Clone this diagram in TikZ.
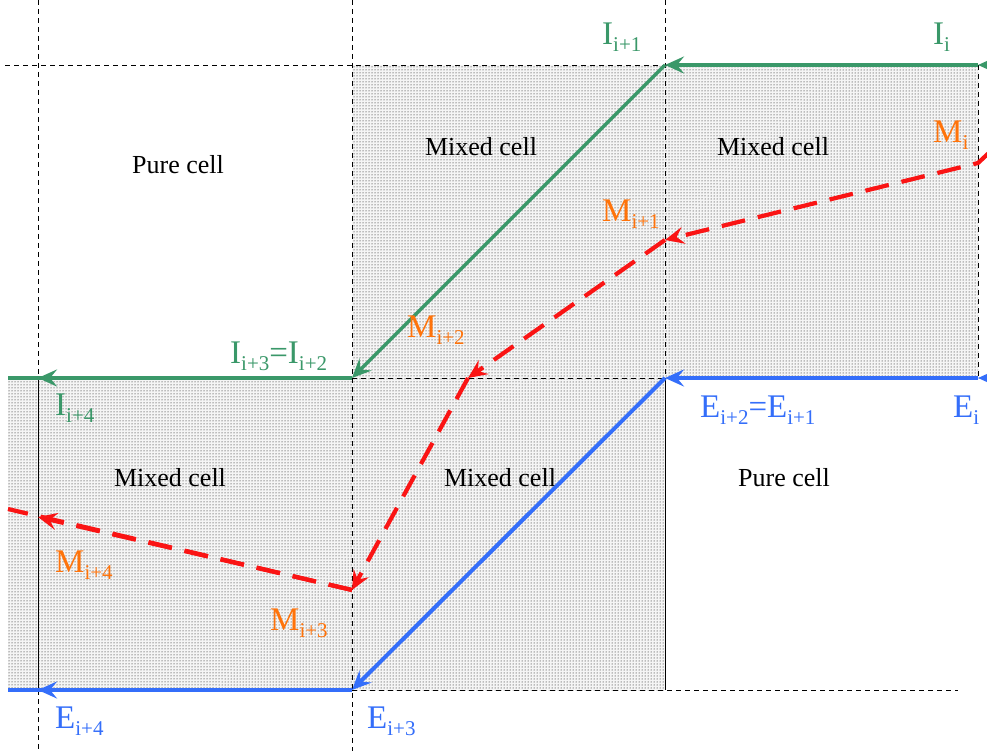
\documentclass[tikz,border=0pt]{standalone}
\usepackage{fontspec}
\setmainfont{Liberation Serif}
\usetikzlibrary{arrows.meta,patterns}
\definecolor{igreen}{RGB}{58,152,105}
\definecolor{eblue}{RGB}{52,110,250}
\definecolor{mred}{RGB}{250,20,20}
\definecolor{morange}{RGB}{255,115,10}
\newcommand\lab[2]{#1\raisebox{-7pt}{\fontsize{21}{21}\selectfont #2}}
\begin{document}
\begin{tikzpicture}[x=1pt,y=-1pt,
  grid/.style={black, line width=0.8pt, dash pattern=on 5pt off 4pt},
  shaded/.style={fill=black!4, postaction={pattern=dots, pattern color=black}},
  tip/.style={-{Stealth[length=19pt,width=17pt,inset=7pt]}},
  gline/.style={igreen, line width=3.2pt},
  bline/.style={eblue, line width=4pt},
  rline/.style={mred, line width=4.2pt, dash pattern=on 24pt off 13pt},
  celltext/.style={font=\fontsize{26}{30}\selectfont, text=black},
  labtext/.style={anchor=base west, inner sep=0pt, font=\fontsize{33}{36}\selectfont}]
\useasboundingbox (0,0) rectangle (987,751);
\fill[white] (0,0) rectangle (987,751);
% shaded mixed cells
\path[shaded] (352,65) rectangle (978,378);
\path[shaded] (8,378) rectangle (665,690);
% grid lines
\draw[grid] (38,0) -- (38,378);
\draw[black, line width=0.8pt] (38,378) -- (38,690);
\draw[grid] (38,690) -- (38,751);
\draw[grid] (352,0) -- (352,751);
\draw[grid] (665,0) -- (665,378);
\draw[black, line width=0.8pt] (665,378) -- (665,690);
\draw[grid] (978,65) -- (978,378);
\draw[grid] (5,65) -- (978,65);
\draw[grid] (352,378) -- (978,378);
\draw[grid] (352,690) -- (958,690);
% cell texts
\node[celltext] (pc1) at (178,165) {Pure cell};
\node[celltext] (mc1) at (481,147) {Mixed cell};
\node[celltext] (mc2) at (773,147) {Mixed cell};
\node[celltext] (mc3) at (170,478) {Mixed cell};
\node[celltext] (mc4) at (500,478) {Mixed cell};
\node[celltext] (pc2) at (784,478) {Pure cell};
% coordinates
\coordinate (gR) at (1012,65);
\coordinate (gI) at (978,65);
\coordinate (gI1) at (665,65);
\coordinate (gI2) at (352,378);
\coordinate (gI4) at (38,378);
\coordinate (gL) at (8,378);
\coordinate (eR) at (1012,378);
\coordinate (eI) at (978,378);
\coordinate (eI1) at (665,378);
\coordinate (eI3) at (352,690);
\coordinate (eI4) at (38,690);
\coordinate (eL) at (8,690);
\coordinate (mR) at (992,150);
\coordinate (mI) at (978,163);
\coordinate (mI1) at (665,240);
\coordinate (mI2) at (468,378);
\coordinate (mI3) at (352,590);
\coordinate (mI4) at (38,517);
\coordinate (mL) at (8,509);
% green interface
\draw[gline,tip] (gR) -- (gI);
\draw[gline,tip] (gI) -- (gI1);
\draw[gline,tip] (gI1) -- (gI2);
\draw[gline] (gI2) -- (gL);
\draw[gline,tip] (gI2) -- (gI4);
% blue interface
\draw[bline,tip] (eR) -- (eI);
\draw[bline,tip] (eI) -- (eI1);
\draw[bline,tip] (eI1) -- (eI3);
\draw[bline] (eI3) -- (eL);
\draw[bline,tip] (eI3) -- (eI4);
% red interface
\draw[rline,tip] (mR) -- (mI) -- (mI1);
\draw[rline,tip] (mI1) -- (mI2);
\draw[rline,tip] (mI2) -- (mI3);
\draw[rline] (mI3) -- (mL);
\draw[rline,tip] (mI3) -- (mI4);
% labels
\node[labtext, text=igreen] (lI1) at (602,45) {\lab{I}{i+1}};
\node[labtext, text=igreen] (lI) at (933,45) {\lab{I}{i}};
\node[labtext, text=igreen] (lI32) at (230,363) {\lab{I}{i+3}=\lab{I}{i+2}};
\node[labtext, text=igreen] (lI4) at (55,415) {\lab{I}{i+4}};
\node[labtext, text=eblue] (lE21) at (700,417) {\lab{E}{i+2}=\lab{E}{i+1}};
\node[labtext, text=eblue] (lE) at (953,417) {\lab{E}{i}};
\node[labtext, text=eblue] (lE4) at (55,728) {\lab{E}{i+4}};
\node[labtext, text=eblue] (lE3) at (367,728) {\lab{E}{i+3}};
\node[labtext, text=morange] (lM) at (933,143) {\lab{M}{i}};
\node[labtext, text=morange] (lM1) at (602,222) {\lab{M}{i+1}};
\node[labtext, text=morange] (lM2) at (407,337) {\lab{M}{i+2}};
\node[labtext, text=morange] (lM4) at (55,572) {\lab{M}{i+4}};
\node[labtext, text=morange] (lM3) at (270,630) {\lab{M}{i+3}};
\end{tikzpicture}
\end{document}
